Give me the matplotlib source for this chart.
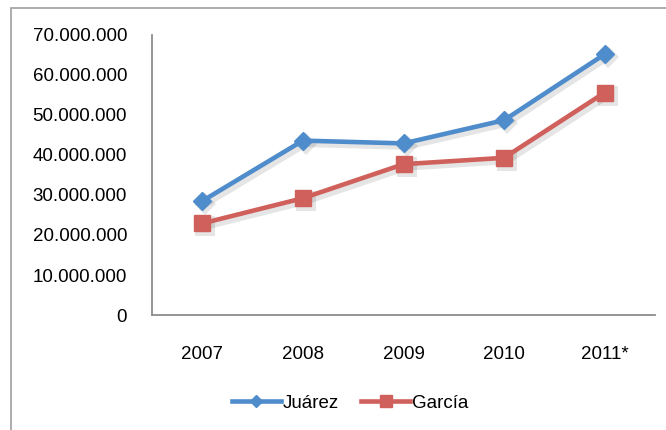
import matplotlib.pyplot as plt
from matplotlib.ticker import FuncFormatter
from matplotlib.patches import Rectangle
from matplotlib.transforms import offset_copy

plt.rcParams['font.family'] = ['Liberation Sans', 'DejaVu Sans']

years = ["2007", "2008", "2009", "2010", "2011*"]
juarez = [28.5e6, 43.6e6, 42.9e6, 48.7e6, 65.2e6]
garcia = [22.9e6, 29.2e6, 37.7e6, 39.3e6, 55.6e6]

fig = plt.figure(figsize=(6.66, 4.30), dpi=100)
# outer chart frame (runs off the right and bottom edge)
fig.patches.append(Rectangle((11/666, -0.1), 1.2, 1 - 8/430 + 0.1,
                             transform=fig.transFigure, fill=False,
                             edgecolor="#a6a6a6", linewidth=1.3))

ax = fig.add_axes([152/666, 1 - 315/430, 503/666, 280/430])
x = list(range(len(years)))

# soft drop shadow under both series
shift = offset_copy(ax.transData, fig=fig, x=3, y=-3, units="dots")
for vals, mk, ms in [(juarez, "D", 9), (garcia, "s", 12)]:
    ax.plot(x, vals, color="#000000", alpha=0.10, lw=5, marker=mk,
            markersize=ms + 2, markeredgewidth=0, transform=shift, zorder=1)

ax.plot(x, juarez, color="#4F8CCB", lw=3.3, marker="D", markersize=9,
        label="Juárez", zorder=3)
ax.plot(x, garcia, color="#D0605B", lw=3.3, marker="s", markersize=12,
        label="García", zorder=3)

ax.set_xlim(-0.5, 4.5)
ax.set_ylim(0, 70e6)
ax.set_yticks(range(0, 70000001, 10000000))
ax.yaxis.set_major_formatter(FuncFormatter(lambda v, p: f"{int(v):,}".replace(",", ".")))
ax.set_xticks(x)
ax.set_xticklabels(years)
ax.tick_params(axis="y", length=0, pad=18, labelsize=13.5)
ax.tick_params(axis="x", length=0, pad=22, labelsize=13.5)
for s in ["top", "right"]:
    ax.spines[s].set_visible(False)
for s in ["left", "bottom"]:
    ax.spines[s].set_color("#8c8c8c")
    ax.spines[s].set_linewidth(1.3)

h, l = ax.get_legend_handles_labels()
fig.legend(h[-2:], l[-2:], loc="center", bbox_to_anchor=(350/666, 1 - 403/430), ncol=2,
           frameon=False, fontsize=13.5, handlelength=2.6, handletextpad=0.1,
           columnspacing=1.2, markerscale=0.7)

fig.savefig("out.png", dpi=100)
